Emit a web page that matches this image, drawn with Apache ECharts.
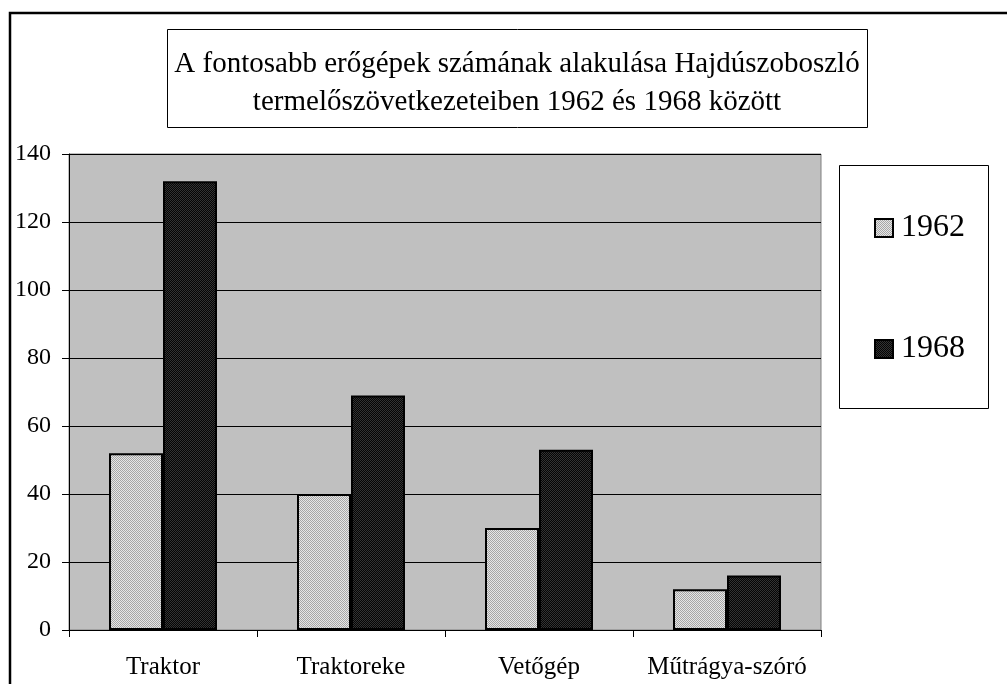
<!DOCTYPE html>
<html>
<head>
<meta charset="utf-8">
<script src="https://cdn.jsdelivr.net/npm/echarts@6/dist/echarts.min.js"></script>
<style>html,body{margin:0;padding:0;background:#fff}#c{width:1007px;height:684px}</style>
</head>
<body>
<div id="c"></div>
<script>
const categories = ['Traktor', 'Traktoreke', 'Vetőgép', 'Műtrágya-szóró'];
const series1962 = [52, 40, 30, 12];
const series1968 = [132, 69, 53, 16];
const seriesNames = ['1962', '1968'];
const yTicks = [0, 20, 40, 60, 80, 100, 120, 140];
const titleText = 'A fontosabb erőgépek számának alakulása Hajdúszoboszló\ntermelőszövetkezeteiben 1962 és 1968 között';

function pattern(a, b) {
  const c = document.createElement('canvas');
  c.width = 2; c.height = 2;
  const x = c.getContext('2d');
  x.fillStyle = a; x.fillRect(0, 0, 2, 2);
  x.fillStyle = b; x.fillRect(0, 0, 1, 1); x.fillRect(1, 1, 1, 1);
  return { image: c, repeat: 'repeat' };
}
const fill1962 = pattern('#e6e6e6', '#a6a6a6');
const fill1968 = pattern('#050505', '#333333');

const font = 'Liberation Serif, Times New Roman, serif';
const chart = echarts.init(document.getElementById('c'), null, { renderer: 'canvas' });
chart.setOption({
  animation: false,
  backgroundColor: '#fff',
  textStyle: { fontFamily: font, color: '#000' },
  graphic: [
    { type: 'rect', shape: { x: 10, y: 13, width: 1010, height: 700 }, style: { fill: 'none', stroke: '#000', lineWidth: 2.5 }, z: 100 },
    { type: 'rect', shape: { x: 167.5, y: 29.5, width: 700, height: 98 }, style: { fill: '#fff', stroke: '#000', lineWidth: 1 }, z: 0 },
    { type: 'rect', shape: { x: 839.5, y: 165.5, width: 149, height: 243 }, style: { fill: '#fff', stroke: '#000', lineWidth: 1 }, z: 0 }
  ],
  title: {
    text: titleText,
    left: 517, top: 45, textAlign: 'center', padding: 0,
    textStyle: { fontFamily: font, fontSize: 29, fontWeight: 'normal', color: '#000', lineHeight: 38 }
  },
  legend: {
    orient: 'vertical',
    left: 869, top: 207,
    itemGap: 89,
    itemWidth: 18, itemHeight: 18,
    icon: 'rect',
    textStyle: { fontFamily: font, fontSize: 32, color: '#000', padding: [0, 0, 0, 3] },
    data: seriesNames
  },
  grid: { left: 69, top: 154, right: 186, bottom: 54, show: true, backgroundColor: '#c0c0c0', borderColor: '#808080', borderWidth: 1 },
  xAxis: {
    type: 'category',
    data: categories,
    axisLine: { show: true, lineStyle: { color: '#000', width: 1 } },
    axisTick: { show: true, length: 7, interval: 0, lineStyle: { color: '#000' } },
    axisLabel: { fontFamily: font, fontSize: 25, color: '#000', margin: 25, interval: 0, hideOverlap: false }
  },
  yAxis: {
    type: 'value',
    min: yTicks[0], max: yTicks[yTicks.length - 1], interval: 20,
    axisLine: { show: true, lineStyle: { color: '#000', width: 1 } },
    axisTick: { show: true, length: 7, lineStyle: { color: '#000' } },
    axisLabel: { fontFamily: font, fontSize: 24, color: '#000', margin: 18 },
    splitLine: { show: true, lineStyle: { color: '#000', width: 1 } }
  },
  series: [
    { name: seriesNames[0], type: 'bar', data: series1962, barWidth: 54, barGap: '0%',
      itemStyle: { color: fill1962, borderColor: '#000', borderWidth: 2 } },
    { name: seriesNames[1], type: 'bar', data: series1968, barWidth: 54, barGap: '0%',
      itemStyle: { color: fill1968, borderColor: '#000', borderWidth: 2 } }
  ]
});
</script>
</body>
</html>
